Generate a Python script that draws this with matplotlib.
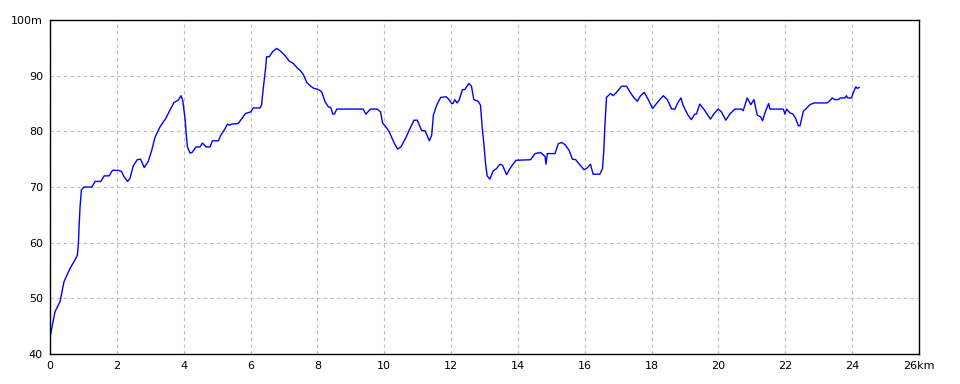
import matplotlib
matplotlib.use("Agg")
import matplotlib.pyplot as plt

# distance (km) and elevation (m)
dist_km = [
    0.0, 0.05, 0.15, 0.3, 0.42, 0.6, 0.72, 0.82, 0.85, 0.87, 0.9, 0.94, 1.02, 1.25,
    1.35, 1.52, 1.62, 1.77, 1.87, 2.04, 2.14, 2.21, 2.32, 2.39, 2.49, 2.61, 2.71,
    2.82, 2.94, 3.04, 3.14, 3.29, 3.46, 3.59, 3.71, 3.84, 3.92, 3.97, 4.04, 4.07,
    4.11, 4.19, 4.25, 4.37, 4.49, 4.56, 4.67, 4.79, 4.86, 5.04, 5.11, 5.24, 5.31,
    5.38, 5.43, 5.63, 5.85, 6.01, 6.08, 6.28, 6.33, 6.38, 6.45, 6.48, 6.56, 6.66,
    6.78, 6.88, 7.03, 7.16, 7.28, 7.41, 7.48, 7.58, 7.68, 7.8, 7.9, 7.99, 8.06,
    8.13, 8.23, 8.33, 8.4, 8.46, 8.51, 8.58, 9.37, 9.45, 9.59, 9.79, 9.89, 9.95,
    10.05, 10.15, 10.29, 10.4, 10.5, 10.65, 10.77, 10.89, 10.99, 11.12, 11.22,
    11.35, 11.42, 11.47, 11.57, 11.69, 11.85, 11.91, 12.02, 12.06, 12.11, 12.18,
    12.24, 12.34, 12.41, 12.53, 12.61, 12.68, 12.81, 12.88, 12.93, 12.98, 13.03,
    13.08, 13.16, 13.26, 13.36, 13.46, 13.54, 13.66, 13.76, 13.94, 14.38, 14.51,
    14.68, 14.81, 14.84, 14.88, 15.11, 15.21, 15.31, 15.41, 15.53, 15.63, 15.73,
    15.85, 15.98, 16.07, 16.17, 16.25, 16.45, 16.53, 16.57, 16.6, 16.65, 16.77,
    16.85, 16.95, 17.1, 17.25, 17.35, 17.45, 17.57, 17.67, 17.78, 17.9, 18.03,
    18.2, 18.35, 18.47, 18.6, 18.7, 18.77, 18.88, 18.94, 19.09, 19.19, 19.29,
    19.34, 19.44, 19.56, 19.66, 19.76, 19.86, 19.99, 20.09, 20.22, 20.34, 20.49,
    20.69, 20.74, 20.86, 20.97, 21.06, 21.16, 21.26, 21.32, 21.39, 21.5, 21.54,
    21.94, 21.99, 22.04, 22.14, 22.23, 22.31, 22.39, 22.44, 22.54, 22.61, 22.74,
    22.86, 23.25, 23.35, 23.4, 23.48, 23.58, 23.65, 23.78, 23.83, 23.86, 23.98,
    24.03, 24.11, 24.16, 24.21,
]
elev_m = [
    43.0, 44.5, 47.6, 49.4, 53.0, 55.4, 56.6, 57.8, 59.9, 62.9, 66.5, 69.5, 70.0, 70.0,
    71.0, 71.0, 72.0, 72.0, 73.0, 73.0, 72.8, 71.9, 71.0, 71.5, 73.8, 74.9, 75.0,
    73.5, 74.6, 76.5, 78.9, 80.8, 82.3, 83.8, 85.2, 85.6, 86.4, 85.6, 82.3, 79.9,
    77.2, 76.1, 76.2, 77.2, 77.2, 77.9, 77.2, 77.2, 78.3, 78.3, 79.3, 80.5, 81.3,
    81.1, 81.3, 81.4, 83.2, 83.5, 84.2, 84.2, 84.7, 87.7, 91.3, 93.4, 93.4, 94.3,
    94.9, 94.5, 93.6, 92.6, 92.2, 91.3, 91.0, 90.2, 88.8, 88.1, 87.7, 87.6, 87.4,
    87.1, 85.3, 84.4, 84.3, 83.1, 83.1, 84.0, 84.0, 83.1, 84.0, 84.0, 83.5, 81.5,
    80.8, 79.9, 78.0, 76.8, 77.2, 78.9, 80.5, 82.0, 82.0, 80.1, 80.1,
    78.3, 79.3, 82.9, 84.7, 86.1, 86.2, 85.9, 85.0, 85.0, 85.7, 85.1,
    85.6, 87.5, 87.5, 88.6, 88.1, 85.7, 85.4, 84.7, 80.8, 77.8, 74.3,
    72.0, 71.4, 72.9, 73.3, 74.1, 73.9, 72.2, 73.3, 74.8, 74.9, 76.0,
    76.2, 75.5, 74.1, 76.0, 76.0, 77.8, 78.0, 77.6, 76.6, 75.0, 74.9,
    74.0, 73.1, 73.4, 74.1, 72.3, 72.3, 73.3, 76.6, 80.8, 86.1, 86.8,
    86.4, 87.0, 88.1, 88.1, 87.1, 86.2, 85.4, 86.4, 87.0, 85.7, 84.1,
    85.4, 86.4, 85.7, 84.0, 84.0, 85.0, 86.0, 84.7, 82.9, 82.1, 83.1,
    83.1, 84.9, 84.0, 83.1, 82.2, 83.1, 84.0, 83.5, 82.0, 83.1, 84.0,
    84.0, 83.7, 86.0, 84.8, 85.7, 82.9, 82.6, 81.9, 83.3, 85.0, 84.0,
    84.0, 83.1, 84.0, 83.3, 83.1, 82.3, 81.0, 81.0, 83.6, 84.0, 84.8,
    85.1, 85.1, 85.6, 86.0, 85.7, 85.7, 86.0, 86.0, 86.4, 86.0, 86.0,
    86.9, 88.0, 87.7, 87.9,
]

x_ticks = list(range(0, 27, 2))
x_labels = [str(v) for v in x_ticks[:-1]] + ["26km"]
y_ticks = list(range(40, 101, 10))
y_labels = [str(v) for v in y_ticks[:-1]] + ["100m"]

plt.rcParams["font.family"] = ["DejaVu Sans"]

fig = plt.figure(figsize=(9.6, 3.84), dpi=100)
ax = fig.add_axes([50 / 960, 30 / 384, 869 / 960, 334 / 384])

ax.plot(dist_km, elev_m, color="#0000ff", linewidth=1.0)

ax.set_xlim(0, 26)
ax.set_ylim(40, 100)
ax.set_xticks(x_ticks)
ax.set_xticklabels(x_labels)
ax.set_yticks(y_ticks)
ax.set_yticklabels(y_labels)
ax.tick_params(length=0, labelsize=8, pad=5, colors="black")
ax.grid(True, color="#bbbbbb", linestyle=(0, (3, 3)), linewidth=0.8)
for s in ax.spines.values():
    s.set_color("black")
    s.set_linewidth(1.0)

fig.savefig("out.png", dpi=100, facecolor="white")
